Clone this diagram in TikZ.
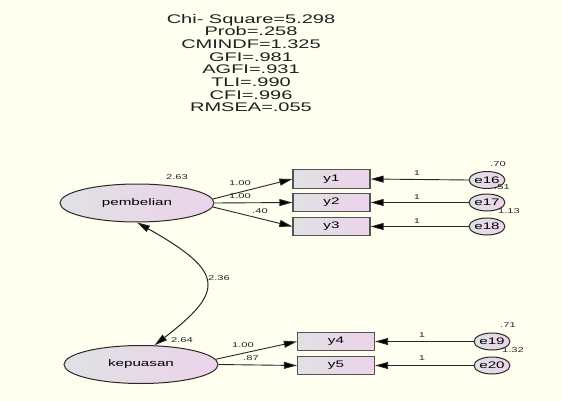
\documentclass[tikz,border=0pt]{standalone}
\usepackage{fontspec}
\newfontfamily\af[FakeStretch=1.6]{Liberation Sans}
\usetikzlibrary{shapes.geometric,arrows.meta}
\definecolor{bgc}{RGB}{255,255,240}
\definecolor{lgray}{RGB}{224,225,228}
\definecolor{lpink}{RGB}{236,211,234}
\definecolor{edge}{RGB}{40,40,40}
\tikzset{
  latent/.style={ellipse,draw=edge,line width=1pt,left color=lgray,right color=lpink,
    minimum width=154pt,minimum height=38pt,inner sep=0pt,font=\af\fontsize{9.5}{11}\selectfont},
  obsbox/.style={rectangle,draw=edge!80,line width=1.3pt,left color=lgray,right color=lpink,
    minimum width=77pt,minimum height=18.5pt,inner sep=0pt,font=\af\fontsize{9.5}{11}\selectfont},
  errnode/.style={ellipse,draw=edge,line width=1pt,left color=lgray,right color=lpink,
    minimum width=32pt,minimum height=17pt,inner sep=0pt,font=\af\fontsize{9.5}{10}\selectfont},
  lbl/.style={inner sep=0pt,font=\af\fontsize{7}{8}\selectfont,text=black!85},
  tip/.tip={Triangle[length=13pt,width=7pt,fill=black]},
  pathar/.style={draw=black!85,line width=0.9pt,-tip},
  covar/.style={draw=black!85,line width=1pt,tip-tip},
}
\begin{document}
\begin{tikzpicture}[x=1pt,y=-1pt]
\fill[bgc] (0,0) rectangle (562,401);
\useasboundingbox (0,0) rectangle (562,401);
\node[inner sep=0pt,align=center,font=\af\fontsize{12.5}{12.7}\selectfont,text=black!88] (fit) at (251,63)
  {Chi- Square=5.298\\Prob=.258\\CMINDF=1.325\\GFI=.981\\AGFI=.931\\TLI=.990\\CFI=.996\\RMSEA=.055};

\node[latent] (pem) at (137,203) {pembelian};
\node[latent] (kep) at (141,364.5) {kepuasan};

\node[obsbox] (y1) at (331.5,179) {y1};
\node[obsbox] (y2) at (331.5,202.5) {y2};
\node[obsbox] (y3) at (331.5,226.5) {y3};
\node[obsbox] (y4) at (336,341.5) {y4};
\node[obsbox] (y5) at (336,365.5) {y5};

\node[errnode] (e16) at (487,180) {e16};
\node[errnode] (e17) at (487,202.5) {e17};
\node[errnode] (e18) at (487,226.5) {e18};
\node[errnode] (e19) at (492,341.5) {e19};
\node[errnode] (e20) at (492,365.5) {e20};

\draw[pathar] (pem.3) -- (y1.west);
\draw[pathar] (pem.east) -- (y2.west);
\draw[pathar] (pem.-3) -- (y3.west);
\draw[pathar] (kep.4) -- (y4.west);
\draw[pathar] (kep.east) -- (y5.west);

\draw[pathar] (e16.west) -- (y1.east);
\draw[pathar] (e17.west) -- (y2.east);
\draw[pathar] (e18.west) -- (y3.east);
\draw[pathar] (e19.west) -- (y4.east);
\draw[pathar] (e20.west) -- (y5.east);

\draw[covar] (pem.south) .. controls (225,272) and (225,291) .. (kep.55);

\node[lbl] (l263) at (177,177) {2.63};
\node[lbl] (l100a) at (240,183) {1.00};
\node[lbl] (l100b) at (240,196) {1.00};
\node[lbl] (l40) at (260,211) {.40};
\node[lbl] (l1a) at (417,173) {1};
\node[lbl] (l1b) at (417,197) {1};
\node[lbl] (l1c) at (417,221) {1};
\node[lbl] (l70) at (498,164) {.70};
\node[lbl] (l51) at (502,187) {.51};
\node[lbl] (l113) at (509,211) {1.13};
\node[lbl] (l236) at (219,278) {2.36};
\node[lbl] (l264) at (182,340) {2.64};
\node[lbl] (l100c) at (243,345) {1.00};
\node[lbl] (l87) at (251,358) {.87};
\node[lbl] (l1d) at (422,335) {1};
\node[lbl] (l1e) at (422,358) {1};
\node[lbl] (l71) at (508,325) {.71};
\node[lbl] (l132) at (513,350) {1.32};
\end{tikzpicture}
\end{document}
